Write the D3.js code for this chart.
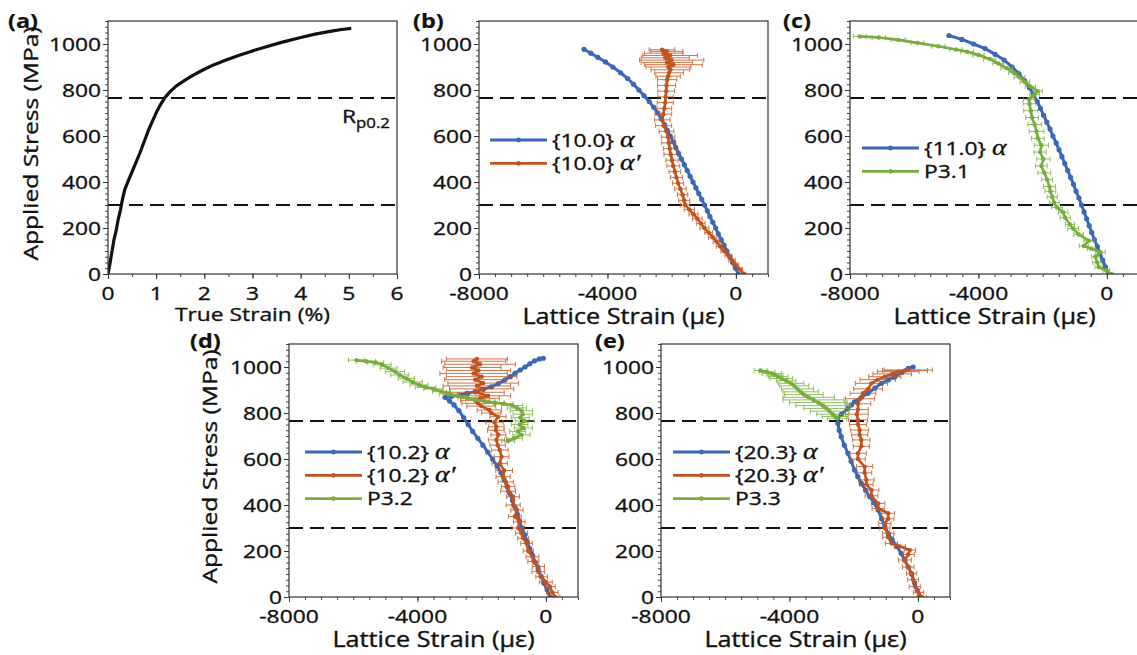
<!DOCTYPE html>
<html>
<head>
<meta charset="utf-8">
<script src="https://cdn.jsdelivr.net/npm/d3@7"></script>
<style>
  body { margin: 0; background: #ffffff; }
  svg { display: block; }
</style>
</head>
<body>
<svg id="fig" width="1137" height="655"></svg>
<script>
// ---------------------------------------------------------------
// Data: applied stress (MPa) against true strain (%) and against
// lattice strain (micro-strain) for the individual reflections.
// Lattice series: [strain, stress] or [strain, stress, error].
// ---------------------------------------------------------------
const stressTicks = [0, 200, 400, 600, 800, 1000];
const trueStrainTicks = [0, 1, 2, 3, 4, 5, 6];
const latticeTicks = [-8000, -4000, 0];
const stressLevels = [300, 765];          // elastic limit and Rp0.2

const tensileCurve = [[0,0],[0.04,45],[0.08,95],[0.12,145],[0.17,190],[0.21,235],[0.26,280],[0.30,325],[0.35,368],[0.42,405],[0.49,440],[0.57,480],[0.66,525],[0.75,575],[0.84,625],[0.93,668],[1.01,705],[1.10,740],[1.18,767],[1.30,795],[1.42,818],[1.60,843],[1.77,865],[1.98,888],[2.19,909],[2.45,930],[2.74,952],[3.00,970],[3.29,988],[3.60,1007],[3.98,1027],[4.30,1043],[4.67,1057],[4.85,1063],[5.05,1068]];

const alpha100 = [[75,0],[-10,25],[-100,50],[-190,75],[-280,100],[-370,125],[-460,150],[-550,175],[-630,200],[-720,225],[-810,250],[-890,275],[-975,300],[-1065,325],[-1155,350],[-1245,375],[-1335,400],[-1425,425],[-1515,450],[-1605,475],[-1695,500],[-1785,525],[-1870,550],[-1955,575],[-2045,600],[-2135,625],[-2225,650],[-2325,675],[-2430,700],[-2560,725],[-2700,750],[-2860,775],[-3020,800],[-3190,825],[-3370,850],[-3590,875],[-3830,900],[-4060,922],[-4300,942],[-4520,960],[-4730,977]];

const alphaPrime100 = [[250,0,60],[130,20,80],[0,40,90],[-120,60,100],[-230,80,110],[-370,100,100],[-490,120,120],[-600,140,110],[-720,160,130],[-850,180,120],[-980,200,140],[-1090,220,130],[-1200,240,150],[-1320,260,140],[-1450,280,160],[-1580,300,150],[-1610,320,170],[-1660,345,160],[-1730,370,180],[-1800,395,170],[-1850,420,190],[-1900,445,180],[-1950,470,200],[-1990,495,190],[-2030,520,210],[-2060,545,200],[-2090,570,220],[-2110,595,210],[-2160,620,230],[-2250,645,250],[-2290,670,240],[-2260,695,260],[-2230,720,230],[-2200,745,250],[-2190,770,240],[-2170,795,260],[-2160,820,280],[-2140,845,300],[-2110,860,380],[-2080,875,450],[-2040,888,600],[-2100,900,700],[-1950,910,900],[-2150,920,800],[-2000,930,1000],[-2200,940,750],[-2050,950,850],[-2250,960,600],[-2150,968,500],[-2300,975,400]];

const alpha110 = [[50,0],[-40,30],[-130,60],[-220,90],[-300,120],[-390,150],[-470,180],[-550,210],[-630,240],[-710,270],[-790,300],[-870,330],[-960,360],[-1040,390],[-1130,420],[-1220,450],[-1310,480],[-1400,510],[-1490,540],[-1580,570],[-1680,600],[-1770,630],[-1870,660],[-1970,690],[-2070,720],[-2170,750],[-2290,780],[-2410,810],[-2560,840],[-2740,870],[-2950,900],[-3200,930],[-3480,955],[-3790,980],[-4150,1000],[-4520,1020],[-4920,1037]];

const p31 = [[120,0,80],[-20,15,100],[-250,30,120],[-300,50,140],[-360,75,120],[-200,95,150],[-480,110,130],[-720,122,140],[-560,145,160],[-880,172,150],[-1050,198,170],[-1150,215,140],[-1300,245,160],[-1360,268,150],[-1560,290,170],[-1640,310,150],[-1700,335,160],[-1760,360,170],[-1790,380,190],[-1860,410,170],[-1950,440,200],[-2040,470,180],[-1980,500,210],[-2080,530,190],[-2040,560,220],[-2150,590,200],[-2190,620,230],[-2250,650,210],[-2330,680,200],[-2370,710,220],[-2410,740,200],[-2420,760,180],[-2250,780,150],[-2150,795,140],[-2380,815,160],[-2550,835,150],[-2720,855,170],[-2900,875,160],[-3120,895,180],[-3380,915,170],[-3650,935,190],[-4000,952,180],[-4350,966,200],[-4700,976,190],[-5250,990,210],[-5900,1005,200],[-6500,1018,220],[-7100,1028,210],[-7700,1033,200]];

const alpha102 = [[130,0],[40,30],[-60,60],[-150,90],[-240,120],[-330,150],[-410,180],[-500,210],[-580,240],[-660,270],[-750,300],[-820,330],[-890,360],[-960,390],[-1040,420],[-1120,450],[-1210,480],[-1300,510],[-1400,540],[-1520,570],[-1660,600],[-1810,630],[-1960,660],[-2120,690],[-2280,720],[-2420,750],[-2560,780],[-2710,810],[-2860,835],[-3000,852],[-3140,868],[-2950,872],[-2700,878],[-2450,885],[-2200,893],[-1950,903],[-1700,914],[-1480,928],[-1280,943],[-1110,958],[-960,973],[-800,987],[-650,1000],[-500,1014],[-350,1027],[-200,1035],[-80,1038]];

const alphaPrime102 = [[285,0,150],[200,20,180],[129,45,160],[0,65,200],[-132,88,180],[-235,110,200],[-235,132,190],[-392,155,170],[-420,175,200],[-549,200,160],[-600,233,180],[-706,255,170],[-760,277,190],[-862,300,200],[-830,327,180],[-967,350,200],[-900,378,190],[-1019,400,220],[-1020,436,200],[-1176,460,230],[-1176,480,210],[-1250,500,240],[-1333,523,220],[-1300,550,260],[-1437,581,240],[-1380,610,230],[-1437,639,260],[-1500,660,240],[-1542,683,250],[-1480,705,230],[-1560,725,260],[-1542,740,240],[-1600,760,270],[-1490,784,250],[-1700,800,300],[-1760,813,380],[-2013,830,450],[-2116,842,500],[-2200,855,450],[-2050,864,600],[-1800,875,700],[-2200,890,900],[-2000,905,1000],[-2150,918,1050],[-1950,930,1100],[-2200,945,950],[-2000,958,1100],[-2250,972,1050],[-2100,985,1000],[-2300,998,900],[-2050,1012,1100],[-2250,1025,1000],[-2150,1035,950]];

const p32 = [[-5900,1030,250],[-5600,1025,300],[-5300,1020,250],[-5100,1010,280],[-4900,995,260],[-4700,980,300],[-4550,965,280],[-4350,950,250],[-4150,935,300],[-3950,922,280],[-3750,912,320],[-3500,905,300],[-3250,893,280],[-3000,882,320],[-2750,874,300],[-2450,866,280],[-2200,858,300],[-1900,850,320],[-1600,845,300],[-1300,840,280],[-1050,833,330],[-900,822,300],[-760,810,350],[-720,795,300],[-800,780,280],[-650,765,300],[-820,750,260],[-700,735,280],[-880,720,250],[-760,705,270],[-980,690,250],[-1180,678,200]];

const alpha203 = [[66,0],[-20,30],[-100,60],[-194,100],[-300,130],[-410,160],[-520,190],[-660,220],[-800,248],[-920,275],[-1031,306],[-1130,340],[-1238,378],[-1370,410],[-1500,436],[-1630,465],[-1762,494],[-1870,523],[-1972,552],[-2080,590],[-2180,625],[-2290,660],[-2389,697],[-2450,725],[-2492,755],[-2500,777],[-2380,795],[-2180,820],[-2070,835],[-1972,849],[-1760,868],[-1553,886],[-1340,908],[-1135,929],[-920,944],[-718,958],[-500,976],[-300,994],[-150,1000]];

const alphaPrime203 = [[119,0,150],[20,20,160],[-90,45,180],[-150,75,170],[-194,103,160],[-300,130,180],[-404,161,200],[-300,185,190],[-250,204,180],[-560,220,170],[-821,233,190],[-925,260,170],[-925,277,180],[-1030,300,160],[-1030,320,190],[-925,340,180],[-925,364,200],[-1238,385,190],[-1238,407,210],[-1447,440,200],[-1447,465,230],[-1605,490,210],[-1605,509,240],[-1657,540,220],[-1657,567,250],[-1866,600,230],[-1866,625,260],[-1762,655,250],[-1762,683,270],[-1814,705,250],[-1814,726,280],[-1866,750,260],[-1866,770,300],[-1900,795,350],[-1866,815,320],[-1866,840,400],[-1800,862,450],[-1709,886,400],[-1550,905,450],[-1447,929,500],[-1250,945,550],[-1030,958,500],[-800,970,600],[-612,980,650],[-400,985,700],[-300,987,750]];

const p33 = [[-4900,985,200],[-4700,978,250],[-4550,972,300],[-4450,965,250],[-4350,958,300],[-4250,950,350],[-4100,940,300],[-3950,929,400],[-3850,918,450],[-3750,905,500],[-3650,892,550],[-3550,880,600],[-3400,868,800],[-3250,857,950],[-3100,845,900],[-2950,832,850],[-2850,820,700],[-2750,808,600],[-2650,795,500],[-2580,785,400],[-2520,777,300]];

const legendB = [["{10.0} ", "α"], ["{10.0} ", "α′"]];
const legendC = [["{11.0} ", "α"], ["P3.1", ""]];
const legendD = [["{10.2} ", "α"], ["{10.2} ", "α′"], ["P3.2", ""]];
const legendE = [["{20.3} ", "α"], ["{20.3} ", "α′"], ["P3.3", ""]];

// ---------------------------------------------------------------
// Styling
// ---------------------------------------------------------------
const BLUE = "#3a67b7", ORANGE = "#c2531d", GREEN = "#77ad3b", INK = "#111";
const FONT = "'Open Sans', 'Noto Sans', sans-serif";
const GREEK = "'Liberation Serif', 'DejaVu Serif', serif";
const SX = 1.2;                 // the lettering of this figure is set wide
const W = 289, H = 253;

const svg = d3.select("#fig");

// text helper: parts = [{t, greek, size, dy}]
function addText(parent, x, y, parts, o = {}) {
  const t = parent.append("text")
    .attr("transform", `translate(${x},${y}) rotate(${o.rotate || 0}) scale(${SX},1)`)
    .attr("text-anchor", o.anchor || "start")
    .attr("font-family", FONT)
    .attr("font-size", o.size || 19)
    .attr("font-weight", o.weight || "normal")
    .attr("fill", INK)
    .attr("stroke", INK)
    .attr("stroke-width", o.weight === "bold" ? 0.2 : 0.35);
  parts.forEach(p => {
    if (!p.t) return;
    const s = t.append("tspan").text(p.t);
    if (p.greek) s.attr("font-family", GREEK).attr("font-style", "italic");
    if (p.size) s.attr("font-size", p.size);
    if (p.dy) s.attr("dy", p.dy);
  });
  return t;
}

function drawPanel(cfg) {
  const g = svg.append("g").attr("transform", `translate(${cfg.left},${cfg.top})`);
  const x = d3.scaleLinear().domain(cfg.xDomain).range([0, W]);
  const y = d3.scaleLinear().domain([0, 1100]).range([H, 0]);

  const clipId = "clip-" + cfg.id;
  g.append("clipPath").attr("id", clipId)
    .append("rect").attr("x", 0).attr("y", 0).attr("width", W).attr("height", H);

  // ticks (outward), minor then major
  const yMinor = d3.range(0, 1101, 25);
  g.append("g").call(d3.axisLeft(y).tickValues(yMinor).tickSize(3).tickFormat(""))
    .call(a => a.select(".domain").remove())
    .selectAll("line").attr("stroke", "#444");
  g.append("g").call(d3.axisLeft(y).tickValues(stressTicks).tickSize(5).tickFormat(""))
    .call(a => a.select(".domain").remove())
    .selectAll("line").attr("stroke", "#333");
  const xMinor = d3.range(cfg.xDomain[0], cfg.xDomain[1] + 1e-9, cfg.xStep);
  g.append("g").attr("transform", `translate(0,${H})`)
    .call(d3.axisBottom(x).tickValues(xMinor).tickSize(3).tickFormat(""))
    .call(a => a.select(".domain").remove())
    .selectAll("line").attr("stroke", "#444");
  g.append("g").attr("transform", `translate(0,${H})`)
    .call(d3.axisBottom(x).tickValues(cfg.xTicks).tickSize(5).tickFormat(""))
    .call(a => a.select(".domain").remove())
    .selectAll("line").attr("stroke", "#333");

  // tick labels
  stressTicks.forEach(v => addText(g, -7, y(v) + 6.8, [{ t: String(v) }], { anchor: "end" }));
  cfg.xTicks.forEach(v => addText(g, x(v), H + 26, [{ t: String(v) }], { anchor: "middle" }));

  // axis titles
  addText(g, W / 2, H + cfg.titleDy, [{ t: cfg.xTitle }], { anchor: "middle", size: cfg.titleSize });
  if (cfg.yTitle) {
    addText(g, cfg.yTitleX, H / 2 - 4, [{ t: "Applied Stress (MPa)" }],
      { anchor: "middle", rotate: -90, size: 20.5 });
  }

  // panel tag
  addText(svg, cfg.tagX, cfg.tagY, [{ t: cfg.tag }], { weight: "bold", size: 19.5 });

  // reference stress levels
  const plot = g.append("g").attr("clip-path", `url(#${clipId})`);
  plot.selectAll("line.level").data(stressLevels).join("line")
    .attr("class", "level")
    .attr("x1", 0).attr("x2", W)
    .attr("y1", d => y(d)).attr("y2", d => y(d))
    .attr("stroke", INK).attr("stroke-width", 2).attr("stroke-dasharray", "14 7");

  // series
  const line = d3.line().x(d => x(d[0])).y(d => y(d[1]));
  cfg.series.forEach(s => {
    const sg = plot.append("g");
    if (s.errors) {
      const eb = sg.append("g").attr("stroke", s.color).attr("stroke-width", 1).attr("opacity", 0.8);
      s.data.forEach(d => {
        const x0 = x(d[0] - d[2]), x1 = x(d[0] + d[2]), yy = y(d[1]);
        eb.append("line").attr("x1", x0).attr("x2", x1).attr("y1", yy).attr("y2", yy);
        eb.append("line").attr("x1", x0).attr("x2", x0).attr("y1", yy - 2.5).attr("y2", yy + 2.5);
        eb.append("line").attr("x1", x1).attr("x2", x1).attr("y1", yy - 2.5).attr("y2", yy + 2.5);
      });
    }
    sg.append("path").datum(s.data).attr("d", line)
      .attr("fill", "none").attr("stroke", s.color)
      .attr("stroke-width", s.width || 2.6).attr("stroke-linejoin", "round");
    if (s.markers !== false) {
      sg.selectAll("circle").data(s.data).join("circle")
        .attr("cx", d => x(d[0])).attr("cy", d => y(d[1]))
        .attr("r", s.r || 2.2).attr("fill", s.color);
    }
  });

  // frame
  g.append("rect").attr("x", 0).attr("y", 0).attr("width", W).attr("height", H)
    .attr("fill", "none").attr("stroke", "#333").attr("stroke-width", 1.2);

  // legend
  if (cfg.legend) {
    cfg.legend.forEach((item, i) => {
      const ly = cfg.legendY + i * 23.3;
      const col = cfg.series[i].color;
      g.append("line").attr("x1", cfg.legendX).attr("x2", cfg.legendX + 57)
        .attr("y1", ly).attr("y2", ly).attr("stroke", col).attr("stroke-width", 2.8);
      g.append("circle").attr("cx", cfg.legendX + 28.5).attr("cy", ly).attr("r", 2.4).attr("fill", col);
      addText(g, cfg.legendX + 62, ly + 6.6, [{ t: item[0] }, { t: item[1], greek: true, size: 23 }]);
    });
  }
  return { g, x, y };
}

// ---------------------------------------------------------------
// Panels
// ---------------------------------------------------------------
const pa = drawPanel({
  id: "a", left: 108, top: 21, xDomain: [0, 6], xStep: 0.5, xTicks: trueStrainTicks,
  xTitle: "True Strain (%)", titleDy: 47, titleSize: 19, yTitle: true, yTitleX: -70,
  tag: "(a)", tagX: 8, tagY: 28,
  series: [{ data: tensileCurve, color: INK, width: 3.2, markers: false }]
});
addText(pa.g, 234, 102, [{ t: "R" }, { t: "p0.2", size: 14, dy: 5 }], { size: 19 });

drawPanel({
  id: "b", left: 479, top: 21, xDomain: [-8000, 1000], xStep: 500, xTicks: latticeTicks,
  xTitle: "Lattice Strain (με)", titleDy: 50, titleSize: 21, yTitle: false,
  tag: "(b)", tagX: 413, tagY: 28,
  series: [{ data: alpha100, color: BLUE, width: 3, r: 2.6 }, { data: alphaPrime100, color: ORANGE, errors: true }],
  legend: legendB, legendX: 11, legendY: 119
});

drawPanel({
  id: "c", left: 850, top: 21, xDomain: [-8000, 1000], xStep: 500, xTicks: latticeTicks,
  xTitle: "Lattice Strain (με)", titleDy: 50, titleSize: 21, yTitle: false,
  tag: "(c)", tagX: 783, tagY: 28,
  series: [{ data: alpha110, color: BLUE, width: 3, r: 2.6 }, { data: p31, color: GREEN, errors: true }],
  legend: legendC, legendX: 12, legendY: 127
});

drawPanel({
  id: "d", left: 289, top: 344, xDomain: [-8000, 1000], xStep: 500, xTicks: latticeTicks,
  xTitle: "Lattice Strain (με)", titleDy: 50, titleSize: 21, yTitle: true, yTitleX: -72,
  tag: "(d)", tagX: 190, tagY: 348,
  series: [{ data: alpha102, color: BLUE, width: 3, r: 2.6 }, { data: alphaPrime102, color: ORANGE, errors: true },
           { data: p32, color: GREEN, errors: true }],
  legend: legendD, legendX: 16, legendY: 108
});

drawPanel({
  id: "e", left: 661, top: 344, xDomain: [-8000, 1000], xStep: 500, xTicks: latticeTicks,
  xTitle: "Lattice Strain (με)", titleDy: 50, titleSize: 21, yTitle: false,
  tag: "(e)", tagX: 595, tagY: 348,
  series: [{ data: alpha203, color: BLUE, width: 3, r: 2.6 }, { data: alphaPrime203, color: ORANGE, errors: true },
           { data: p33, color: GREEN, errors: true }],
  legend: legendE, legendX: 12, legendY: 108
});
</script>
</body>
</html>
